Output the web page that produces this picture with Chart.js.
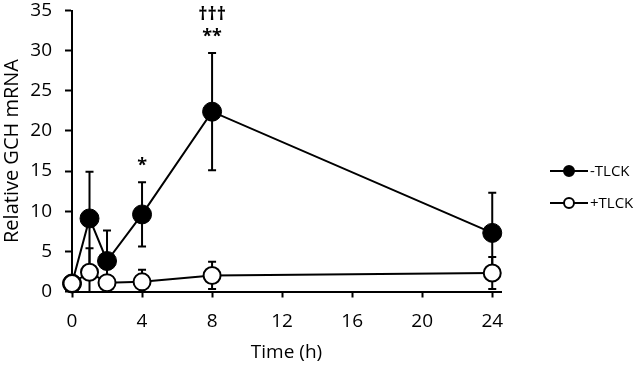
<!DOCTYPE html>
<html>
<head>
<meta charset="utf-8">
<script src="https://cdn.jsdelivr.net/npm/chart.js@4/dist/chart.umd.min.js"></script>
<style>
  html, body { margin: 0; padding: 0; background: #fff; }
  #wrap { width: 634px; height: 366px; position: relative; }
</style>
</head>
<body>
<div id="wrap"><canvas id="myChart"></canvas></div>
<script>
'use strict';

//////////////// data ///////////////////

let timePoints = [0, 1, 2, 4, 8, 24];
let minusTlck = [1.0, 9.1, 3.8, 9.6, 22.4, 7.3];
let minusTlckSd = [0, 5.8, 3.8, 4.0, 7.3, 5.0];
let plusTlck = [1.0, 2.4, 1.1, 1.2, 2.0, 2.3];
let plusTlckSd = [0, 3.0, 1.7, 1.5, 1.7, 2.0];

let xTicks = [0, 4, 8, 12, 16, 20, 24];
let seriesNames = ['-TLCK', '+TLCK'];

// significance marks (time, height in mRNA units, text)
let markTimes = [4, 8, 8];
let markHeights = [15.6, 31.7, 34.5];
let markTexts = ['*', '**', '\u2020\u2020\u2020'];

let fontFamily = '"Open Sans", "Liberation Sans", sans-serif';

function toPoints(xs, ys) {
  let pts = [];
  for (let i = 0; i < xs.length; i++) {
    pts.push({ x: xs[i], y: ys[i] });
  }
  return pts;
}

//////////////// error bars ///////////////////

let errorBars = {
  id: 'errorBars',
  beforeDatasetsDraw(chart) {
    let ctx = chart.ctx;
    let yScale = chart.scales.y;
    let sds = [minusTlckSd, plusTlckSd];
    ctx.save();
    ctx.strokeStyle = '#000';
    ctx.lineWidth = 2;
    for (let d = 0; d < chart.data.datasets.length; d++) {
      let meta = chart.getDatasetMeta(d);
      let ds = chart.data.datasets[d];
      let sd = sds[ds.sdIndex];
      for (let i = 0; i < meta.data.length; i++) {
        if (!sd[i]) continue;
        let px = meta.data[i].x;
        let val = ds.data[i].y;
        let top = yScale.getPixelForValue(val + sd[i]);
        let low = yScale.getPixelForValue(Math.max(0, val - sd[i]));
        ctx.beginPath();
        ctx.moveTo(px, top);
        ctx.lineTo(px, low);
        ctx.moveTo(px - 4, top);
        ctx.lineTo(px + 4, top);
        if (val - sd[i] > 0) {
          ctx.moveTo(px - 4, low);
          ctx.lineTo(px + 4, low);
        }
        ctx.stroke();
      }
    }
    ctx.restore();
  }
};

//////////////// significance marks + legend ///////////////////

let extras = {
  id: 'extras',
  afterDraw(chart) {
    let ctx = chart.ctx;
    let xs = chart.scales.x;
    let ys = chart.scales.y;
    ctx.save();
    ctx.fillStyle = '#000';
    ctx.textAlign = 'center';
    ctx.textBaseline = 'middle';
    ctx.font = 'bold 18px ' + fontFamily;
    for (let i = 0; i < markTexts.length; i++) {
      ctx.fillText(markTexts[i], xs.getPixelForValue(markTimes[i]), ys.getPixelForValue(markHeights[i]));
    }

    // legend: line with marker, then the name
    let rows = [171, 203];
    ctx.font = '15px ' + fontFamily;
    ctx.textAlign = 'left';
    for (let i = 0; i < seriesNames.length; i++) {
      let y = rows[i];
      ctx.strokeStyle = '#000';
      ctx.lineWidth = 2;
      ctx.beginPath();
      ctx.moveTo(550, y);
      ctx.lineTo(588, y);
      ctx.stroke();
      ctx.beginPath();
      ctx.arc(569, y, 5, 0, Math.PI * 2);
      ctx.fillStyle = i === 0 ? '#000' : '#fff';
      ctx.fill();
      ctx.stroke();
      ctx.fillStyle = '#000';
      ctx.fillText(seriesNames[i], 590, y + 1);
    }
    ctx.restore();
  }
};

//////////////// the chart ///////////////////

let ctx = document.getElementById('myChart').getContext('2d');
let myChart = new Chart(ctx, {
  type: 'line',
  data: {
    datasets: [{
      label: seriesNames[1],
      data: toPoints(timePoints, plusTlck),
      sdIndex: 1,
      borderColor: '#000',
      borderWidth: 2,
      backgroundColor: '#fff',
      pointBackgroundColor: '#fff',
      pointBorderColor: '#000',
      pointBorderWidth: 2,
      pointRadius: 8.5,
      tension: 0,
      clip: false
    }, {
      label: seriesNames[0],
      data: toPoints(timePoints, minusTlck),
      sdIndex: 0,
      borderColor: '#000',
      borderWidth: 2,
      backgroundColor: '#000',
      pointBackgroundColor: '#000',
      pointBorderColor: '#000',
      pointBorderWidth: 1,
      pointRadius: 9.5,
      tension: 0,
      clip: false
    }]
  },
  options: {
    responsive: true,
    maintainAspectRatio: false,
    animation: false,
    layout: { padding: { top: 10, right: 133, bottom: 0, left: 0 } },
    plugins: {
      legend: { display: false },
      tooltip: { enabled: false }
    },
    scales: {
      x: {
        type: 'linear',
        min: 0,
        max: 24.5,
        afterBuildTicks(scale) {
          scale.ticks = xTicks.map(v => ({ value: v }));
        },
        afterFit(scale) {
          scale.height = 74.5;
          scale.paddingLeft = 0;
          scale.paddingRight = 0;
        },
        grid: { drawOnChartArea: false, tickLength: 6, tickWidth: 2, color: '#000' },
        border: { color: '#000', width: 2 },
        ticks: { color: '#000', font: { family: fontFamily, size: 19 }, padding: 13, maxRotation: 0 },
        title: { display: true, text: 'Time (h)', color: '#000', font: { family: fontFamily, size: 19 }, padding: { top: 0, bottom: 2 } }
      },
      y: {
        min: 0,
        max: 35,
        afterFit(scale) {
          scale.width = 72;
          scale.paddingTop = 0;
          scale.paddingBottom = 0;
        },
        grid: { drawOnChartArea: false, tickLength: 7, tickWidth: 2, color: '#000' },
        border: { color: '#000', width: 2 },
        ticks: { stepSize: 5, color: '#000', font: { family: fontFamily, size: 19 }, padding: 13 },
        title: { display: true, text: 'Relative GCH mRNA', color: '#000', font: { family: fontFamily, size: 20 }, padding: { top: 0, bottom: 0 } }
      }
    }
  },
  plugins: [errorBars, extras]
});
</script>
</body>
</html>
